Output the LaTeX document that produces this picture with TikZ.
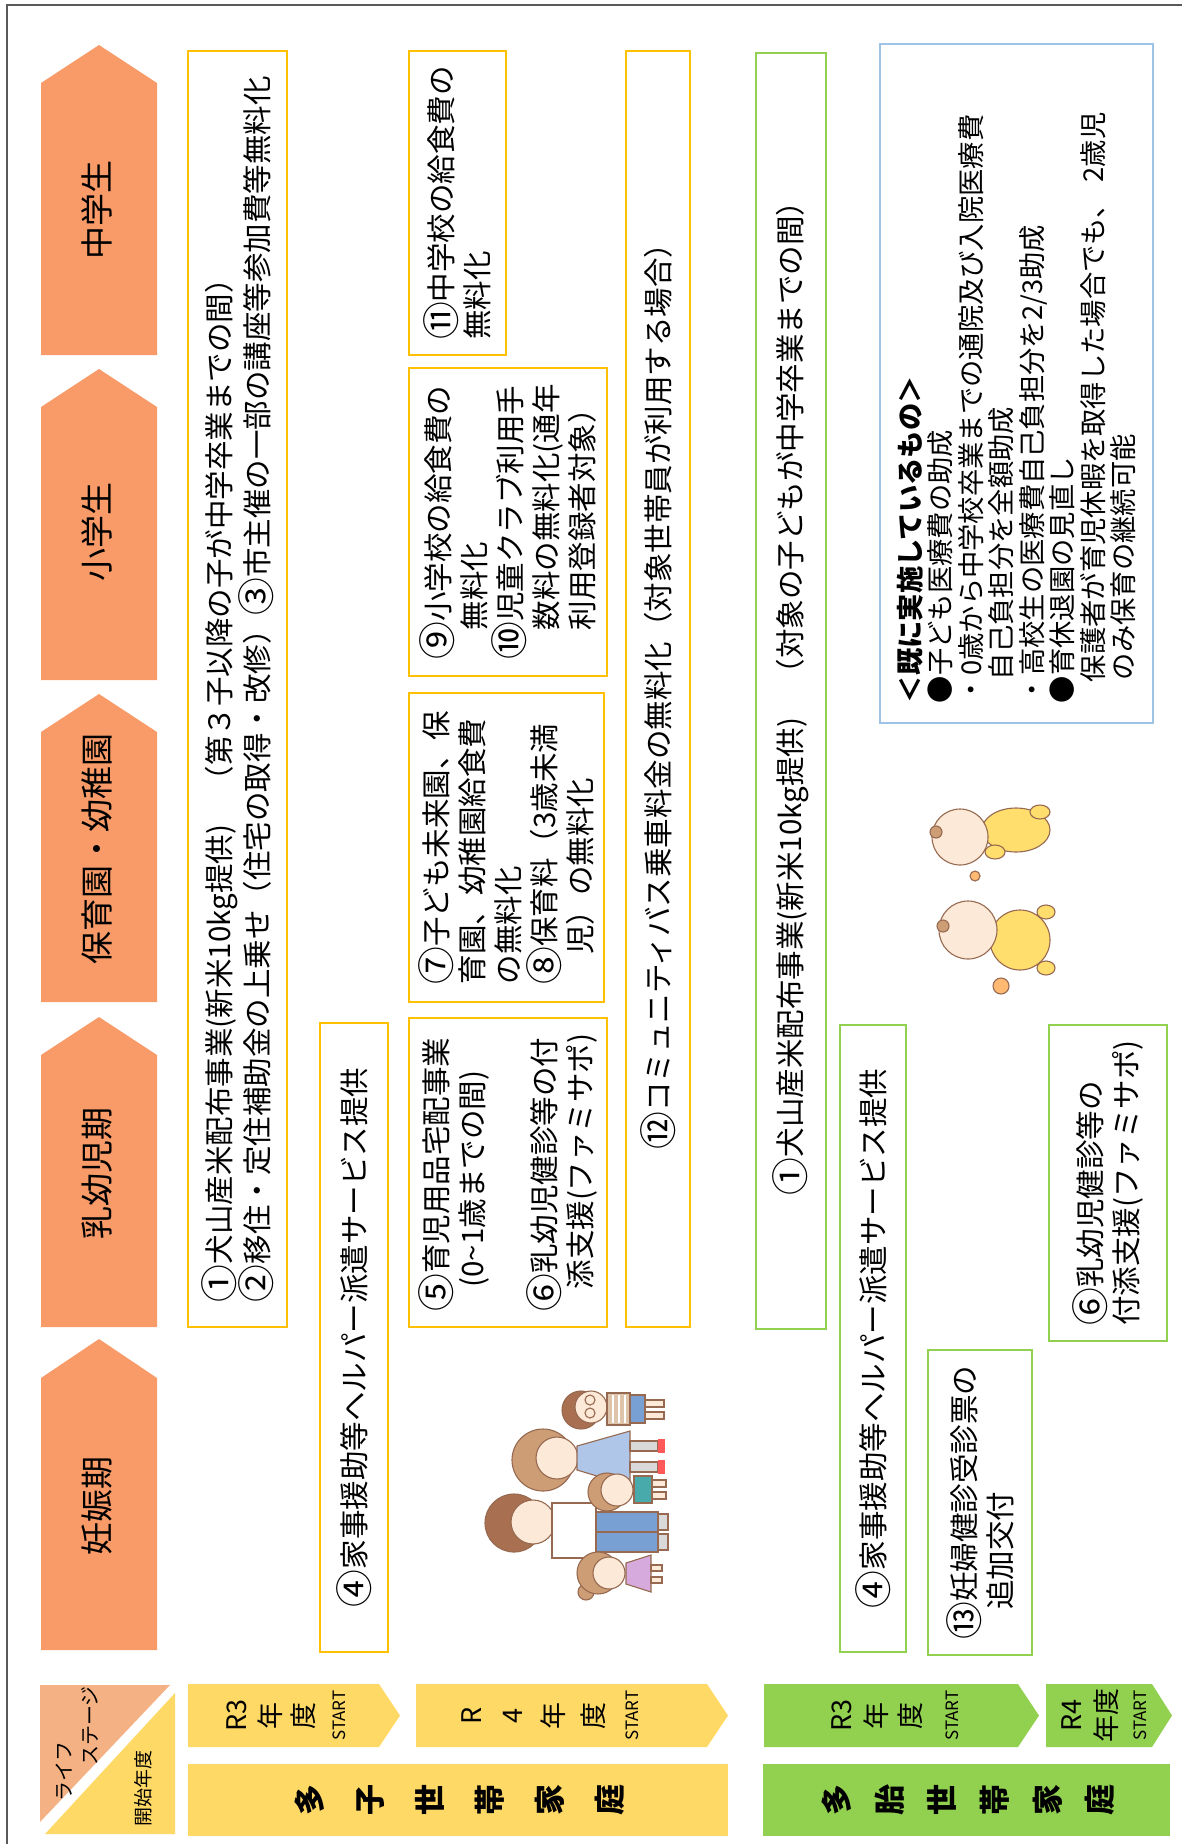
\documentclass[tikz,border=0pt]{standalone}
\usepackage{graphicx}
\usepackage{fontspec}
\setmainfont{Noto Sans CJK JP}
% circled numbers set at full character size
\newcommand\cn[1]{\raisebox{-0.09em}{\scalebox{1.28}{#1}}}
\definecolor{stagefill}{RGB}{248,155,104}
\definecolor{lifefill}{RGB}{244,177,131}
\definecolor{yfill}{RGB}{255,217,102}
\definecolor{gfill}{RGB}{146,208,80}
\definecolor{yline}{RGB}{255,192,0}
\definecolor{gline}{RGB}{146,208,80}
\definecolor{bline}{RGB}{157,195,230}
\definecolor{framegray}{RGB}{89,89,89}
\definecolor{skin}{RGB}{253,233,215}
\definecolor{hairdark}{RGB}{168,112,80}
\definecolor{hairlight}{RGB}{205,158,118}
\definecolor{inkbrown}{RGB}{150,105,80}
\definecolor{jeans}{RGB}{120,160,210}
\definecolor{dressblue}{RGB}{176,198,232}
\definecolor{teal}{RGB}{72,170,170}
\definecolor{pinkdress}{RGB}{214,170,220}
\definecolor{stripe}{RGB}{222,196,170}
\definecolor{babyyellow}{RGB}{255,222,110}
\begin{document}
\begin{tikzpicture}[x=1pt,y=-1pt,
  every node/.style={inner sep=0pt},
  stagelab/.style={rotate=90, font={\fontsize{33}{40}\selectfont}},
  panel/.style={draw, line width=2.4pt, rotate=90, align=left,
    font={\fontsize{29.5}{36}\selectfont}},
  ypanel/.style={panel, draw=yline},
  gpanel/.style={panel, draw=gline},
  yearlab/.style={rotate=90, align=center},
  startlab/.style={rotate=90, font={\fontsize{17}{20}\selectfont}},
  rowlab/.style={rotate=90, align=center},
  art/.style={draw=inkbrown, line width=1.1pt},
]
\useasboundingbox (0,0) rectangle (1182,1844);

% outer frame
\draw[framegray, line width=2pt] (7,1844) -- (7,5) -- (1182,5);

% life-stage header chevrons
\foreach \tip/\sh/\bot/\mid/\lab [count=\i] in
  {45/83/355/210/中学生, 369/407/680/532/小学生,
   694/732/1002/849/保育園・幼稚園, 1017/1055/1327/1173/乳幼児期,
   1339/1378/1650/1506/妊娠期}{
  \fill[stagefill] (41,\sh) -- (99,\tip) -- (157,\sh) -- (157,\bot) -- (41,\bot) -- cycle;
  \node[stagelab] (stage\i) at (97,\mid) {\lab};
}

% corner header cell
\fill[lifefill] (40,1685) -- (170,1685) -- (40,1822) -- cycle;
\fill[yfill] (175,1693) -- (175,1834) -- (45,1834) -- cycle;
\node[rotate=90, font={\fontsize{20}{24}\selectfont}] (life1) at (64,1771) {ライフ};
\node[rotate=90, font={\fontsize{20}{24}\selectfont}] (life2) at (90,1726) {ステージ};
\node[rotate=90, font={\fontsize{19}{22}\selectfont}] (startyear) at (143,1788) {開始年度};

% start-year arrows
\fill[yfill] (188,1684) -- (379,1684) -- (400,1715.5) -- (379,1747) -- (188,1747) -- cycle;
\node[yearlab, font={\fontsize{27}{33.5}\selectfont}] (yR3) at (271.5,1715.5) {R3\\年\\度};
\node[startlab] (yR3s) at (339,1715.5) {START};
\fill[yfill] (416,1684) -- (707,1684) -- (728,1715.5) -- (707,1747) -- (416,1747) -- cycle;
\node[yearlab, font={\fontsize{27}{40.7}\selectfont}] (yR4) at (534,1715.5) {R\\4\\年\\度};
\node[startlab] (yR4s) at (632,1715.5) {START};
\fill[gfill] (764,1684) -- (1018,1684) -- (1039,1715.5) -- (1018,1747) -- (764,1747) -- cycle;
\node[yearlab, font={\fontsize{27}{34.5}\selectfont}] (gR3) at (877.5,1715.5) {R3\\年\\度};
\node[startlab] (gR3s) at (952,1715.5) {START};
\fill[gfill] (1046,1684) -- (1152,1684) -- (1172,1715.5) -- (1152,1747) -- (1046,1747) -- cycle;
\node[yearlab, font={\fontsize{27}{35}\selectfont}] (gR4) at (1090.5,1715.5) {R4\\年度};
\node[startlab] (gR4s) at (1140,1715.5) {START};

% household rows
\fill[yfill] (188,1764) rectangle (728,1836);
\node[rowlab, font={\bfseries\fontsize{31}{60}\selectfont}] (multichild) at (460,1800) {多\\子\\世\\帯\\家\\庭};
\fill[gfill] (763,1764) rectangle (1170,1836);
\node[rowlab, font={\bfseries\fontsize{31}{52.6}\selectfont}] (multibirth) at (968.5,1800) {多\\胎\\世\\帯\\家\\庭};

% measures for households with many children
\node[ypanel, minimum width=1276, minimum height=99] (m123) at (237.5,689)
  {\cn{①}犬山産米配布事業(新米10kg提供)　（第３子以降の子が中学卒業までの間）\\\cn{②}移住・定住補助金の上乗せ（住宅の取得・改修）\cn{③}市主催の一部の講座等参加費等無料化};
\node[ypanel, minimum width=629, minimum height=68] (m4) at (354,1337.5)
  {\cn{④}家事援助等ヘルパー派遣サービス提供};
\node[ypanel, minimum width=309, minimum height=198] (m56) at (508,1172.5)
  {\cn{⑤}育児用品宅配事業\\\hspace*{24pt}(0\textasciitilde 1歳までの間)\\[36pt]\cn{⑥}乳幼児健診等の付\\\hspace*{22pt}添支援(ファミサポ)};
\node[ypanel, minimum width=309, minimum height=195] (m78) at (506.5,847.5)
  {\cn{⑦}子ども未来園、保\\育園、幼稚園給食費\\の無料化\\\cn{⑧}保育料（3歳未満\\　児）の無料化};
\node[ypanel, minimum width=308, minimum height=198] (m910) at (508,522)
  {\cn{⑨}小学校の給食費の\\　無料化\\\cn{⑩}児童クラブ利用手\\　数料の無料化(通年\\　利用登録者対象）};
\node[ypanel, minimum width=304, minimum height=97] (m11) at (457.5,203)
  {\cn{⑪}中学校の給食費の\\無料化};
\node[ypanel, minimum width=1276, minimum height=64] (m12) at (658,689)
  {\cn{⑫}コミュニティバス乗車料金の無料化（対象世帯員が利用する場合）};

% measures for multiple-birth households
\node[gpanel, minimum width=1276, minimum height=70] (b1) at (791,691)
  {\cn{①}犬山産米配布事業(新米10kg提供)　（対象の子どもが中学卒業までの間）};
\node[gpanel, minimum width=627, minimum height=66] (b4) at (873,1338.5)
  {\cn{④}家事援助等ヘルパー派遣サービス提供};
\node[gpanel, minimum width=305, minimum height=104] (b13) at (980,1502.5)
  {\cn{⑬}妊婦健診受診票の\\　追加交付};
\node[gpanel, minimum width=316, minimum height=118] (b6) at (1108,1183)
  {\cn{⑥}乳幼児健診等の\\付添支援(ファミサポ)};

% measures already in place
\node[panel, draw=bline, inner xsep=20pt, text width=639pt, minimum height=273,
  font={\fontsize{27.3}{30.5}\selectfont}] (existing) at (1016.5,383.5)
  {{\bfseries ＜既に実施しているもの＞}\\
   ●子ども医療費の助成\\
   ・0歳から中学校卒業までの通院及び入院医療費\\
   \hspace*{23pt}自己負担分を全額助成\\
   ・高校生の医療費自己負担分を2/3助成\\
   ●育休退園の見直し\\
   \hspace*{21pt}保護者が育児休暇を取得した場合でも、 2歳児\\
   \hspace*{23pt}のみ保育の継続可能};

% family illustration
% father
\filldraw[art, fill=hairdark] (514,1523) circle (29);
\filldraw[art, fill=skin] (533,1522) circle (22);
\filldraw[art, fill=white] (552,1503) rectangle (596,1558);
\filldraw[art, fill=jeans] (596,1512) rectangle (658,1552);
\draw[art] (596,1532) -- (658,1532);
\filldraw[art, fill=gray!30] (658,1514) rectangle (668,1530);
\filldraw[art, fill=gray!30] (658,1534) rectangle (668,1550);
% mother
\filldraw[art, fill=hairlight] (543,1460) circle (31);
\filldraw[art, fill=skin] (557,1458) circle (21);
\filldraw[art, fill=dressblue] (577,1446) -- (577,1470) -- (630,1486) -- (630,1431) -- cycle;
\filldraw[art, fill=gray!30] (630,1441) rectangle (658,1451);
\filldraw[art, fill=gray!30] (630,1462) rectangle (658,1472);
\fill[red!65] (658,1439) rectangle (665,1453);
\fill[red!65] (658,1460) rectangle (665,1474);
% boy with glasses
\filldraw[art, fill=hairdark] (581,1410) circle (19);
\filldraw[art, fill=skin] (591,1407) circle (16);
\draw[art] (590,1400) circle (5) (590,1413) circle (5);
\filldraw[art, fill=stripe] (607,1393) rectangle (630,1425);
\foreach \s in {613,619,625} \draw[white, line width=2pt] (\s,1395) -- (\s,1423);
\filldraw[art, fill=jeans] (630,1395) rectangle (645,1423);
\filldraw[art, fill=skin] (645,1400) rectangle (664,1407);
\filldraw[art, fill=skin] (645,1412) rectangle (664,1419);
% child in green shirt
\filldraw[art, fill=hairlight] (607,1492) circle (19);
\filldraw[art, fill=skin] (617,1490) circle (16);
\filldraw[art, fill=teal] (634,1476) rectangle (652,1503);
\filldraw[art, fill=skin] (652,1480) rectangle (666,1487);
\filldraw[art, fill=skin] (652,1492) rectangle (666,1499);
% girl in pink dress
\filldraw[art, fill=hairlight] (586,1592) circle (8);
\filldraw[art, fill=hairlight] (598,1573) circle (21);
\filldraw[art, fill=skin] (609,1573) circle (16);
\filldraw[art, fill=pinkdress] (626,1563) -- (626,1584) -- (651,1592) -- (651,1555) -- cycle;
\filldraw[art, fill=skin] (651,1565) rectangle (662,1571);
\filldraw[art, fill=skin] (651,1577) rectangle (662,1583);

% crawling babies
\filldraw[art, fill=babyyellow] (1016,830) ellipse (34 and 22);
\filldraw[art, fill=babyyellow] (1040,812) ellipse (10 and 7);
\filldraw[art, fill=babyyellow] (995,852) ellipse (10 and 7);
\filldraw[art, fill=skin] (960,837) circle (28);
\filldraw[art, fill=hairlight] (936,832) circle (6);
\filldraw[art, fill=babyyellow] (1020,940) ellipse (30 and 30);
\filldraw[art, fill=babyyellow] (1046,912) ellipse (9 and 7);
\filldraw[art, fill=babyyellow] (1046,968) ellipse (9 and 7);
\filldraw[art, fill=skin] (968,930) circle (29);
\filldraw[art, fill=hairlight] (943,926) circle (6);
\draw[art, fill=orange!55] (1001,986) circle (8);
\draw[art, fill=orange!55] (975,876) circle (5);
\end{tikzpicture}
\end{document}
